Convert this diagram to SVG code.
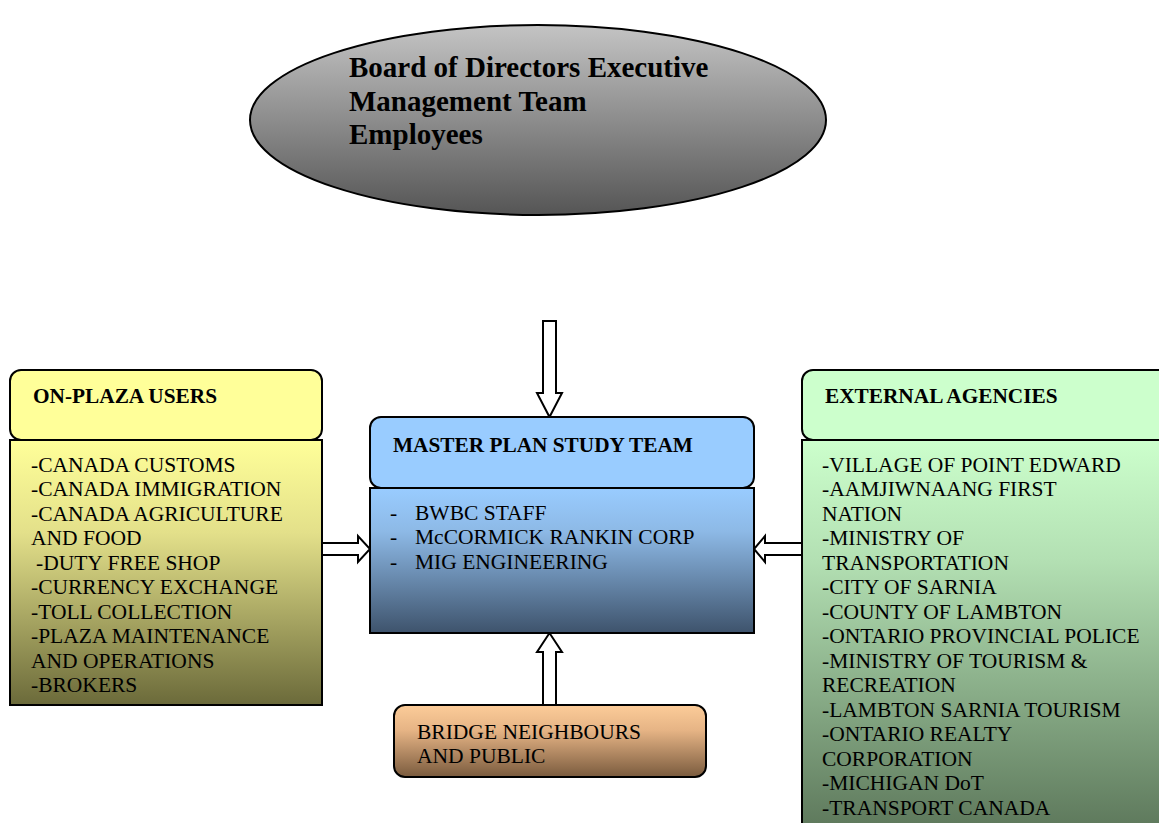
<svg xmlns="http://www.w3.org/2000/svg" width="1159" height="823" viewBox="0 0 1159 823">
  <defs>
    <linearGradient id="gGray" x1="0" y1="0" x2="0" y2="1">
      <stop offset="0" stop-color="#c4c4c4"/>
      <stop offset="1" stop-color="#555555"/>
    </linearGradient>
    <linearGradient id="gYellow" x1="0" y1="0" x2="0" y2="1">
      <stop offset="0" stop-color="#ffff99"/>
      <stop offset="0.35" stop-color="#e3e08a"/>
      <stop offset="1" stop-color="#6b6a3a"/>
    </linearGradient>
    <linearGradient id="gBlue" x1="0" y1="0" x2="0" y2="1">
      <stop offset="0" stop-color="#99ccff"/>
      <stop offset="0.3" stop-color="#8db9e6"/>
      <stop offset="1" stop-color="#3e536c"/>
    </linearGradient>
    <linearGradient id="gGreen" x1="0" y1="0" x2="0" y2="1">
      <stop offset="0" stop-color="#ccffcc"/>
      <stop offset="0.3" stop-color="#b3e0b3"/>
      <stop offset="1" stop-color="#5a7458"/>
    </linearGradient>
    <linearGradient id="gOrange" x1="0" y1="0" x2="0" y2="1">
      <stop offset="0" stop-color="#fccc99"/>
      <stop offset="0.35" stop-color="#e6b485"/>
      <stop offset="1" stop-color="#7a5b3e"/>
    </linearGradient>
  </defs>
  <style>
    .box { stroke: #000; stroke-width: 2; }
    .arrow { fill: #fff; stroke: #000; stroke-width: 2; stroke-linejoin: miter; }
    .title { font-family: "Liberation Serif", "Times New Roman", serif; font-weight: bold; font-size: 21.3px; fill: #000; }
    .item { font-family: "Liberation Serif", "Times New Roman", serif; font-size: 21.5px; fill: #000; }
    .big { font-family: "Liberation Serif", "Times New Roman", serif; font-weight: bold; font-size: 29px; fill: #000; }
  </style>

  <rect width="1159" height="823" fill="#fff"/>

  <!-- connectors: hollow block arrows -->
  <g id="connectors">
    <!-- top, pointing down into the study team -->
    <polygon class="arrow" points="543,321 556,321 556,393 562,393 549.5,417 537,393 543,393"/>
    <!-- from on-plaza users, pointing right -->
    <polygon class="arrow" points="322,543 358,543 358,536 370,549 358,562 358,555 322,555"/>
    <!-- from external agencies, pointing left -->
    <polygon class="arrow" points="802,543 765,543 765,536 754,549 765,562 765,555 802,555"/>
    <!-- from bridge neighbours, pointing up -->
    <polygon class="arrow" points="543,705 543,652 537,652 549.5,633 562,652 556,652 556,705"/>
  </g>

  <g id="board">
    <ellipse class="box" cx="538" cy="120" rx="288" ry="95" fill="url(#gGray)"/>
    <text class="big" x="349" y="77">Board of Directors Executive</text>
    <text class="big" x="349" y="110.5">Management Team</text>
    <text class="big" x="349" y="144">Employees</text>
  </g>

  <g id="on-plaza-users">
    <rect class="box" x="10" y="370" width="312" height="70" rx="11" fill="#ffff99"/>
    <text class="title" x="33" y="403">ON-PLAZA USERS</text>
    <rect class="box" x="10" y="440" width="312" height="265" fill="url(#gYellow)"/>
    <text class="item" x="31" y="471.5">-CANADA CUSTOMS</text>
    <text class="item" x="31" y="496">-CANADA IMMIGRATION</text>
    <text class="item" x="31" y="520.5">-CANADA AGRICULTURE</text>
    <text class="item" x="31" y="545">AND FOOD</text>
    <text class="item" x="36" y="569.5">-DUTY FREE SHOP</text>
    <text class="item" x="31" y="594">-CURRENCY EXCHANGE</text>
    <text class="item" x="31" y="618.5">-TOLL COLLECTION</text>
    <text class="item" x="31" y="643">-PLAZA MAINTENANCE</text>
    <text class="item" x="31" y="667.5">AND OPERATIONS</text>
    <text class="item" x="31" y="692">-BROKERS</text>
  </g>

  <g id="master-plan-study-team">
    <rect class="box" x="370" y="417" width="384" height="71" rx="11" fill="#99ccff"/>
    <text class="title" x="393" y="452">MASTER PLAN STUDY TEAM</text>
    <rect class="box" x="370" y="488" width="384" height="145" fill="url(#gBlue)"/>
    <text class="item" x="390" y="519.5">-</text>
    <text class="item" x="415" y="519.5">BWBC STAFF</text>
    <text class="item" x="390" y="544">-</text>
    <text class="item" x="415" y="544">McCORMICK RANKIN CORP</text>
    <text class="item" x="390" y="568.5">-</text>
    <text class="item" x="415" y="568.5">MIG ENGINEERING</text>
  </g>

  <g id="bridge-neighbours">
    <rect class="box" x="394" y="705" width="312" height="72" rx="11" fill="url(#gOrange)"/>
    <text class="item" x="417" y="738.5">BRIDGE NEIGHBOURS</text>
    <text class="item" x="417" y="763">AND PUBLIC</text>
  </g>

  <g id="external-agencies">
    <rect class="box" x="802" y="370" width="370" height="70" rx="11" fill="#ccffcc"/>
    <text class="title" x="825" y="403">EXTERNAL AGENCIES</text>
    <rect class="box" x="802" y="440" width="370" height="400" fill="url(#gGreen)"/>
    <text class="item" x="822" y="471.5">-VILLAGE OF POINT EDWARD</text>
    <text class="item" x="822" y="496">-AAMJIWNAANG FIRST</text>
    <text class="item" x="822" y="520.5">NATION</text>
    <text class="item" x="822" y="545">-MINISTRY OF</text>
    <text class="item" x="822" y="569.5">TRANSPORTATION</text>
    <text class="item" x="822" y="594">-CITY OF SARNIA</text>
    <text class="item" x="822" y="618.5">-COUNTY OF LAMBTON</text>
    <text class="item" x="822" y="643">-ONTARIO PROVINCIAL POLICE</text>
    <text class="item" x="822" y="667.5">-MINISTRY OF TOURISM &amp;</text>
    <text class="item" x="822" y="692">RECREATION</text>
    <text class="item" x="822" y="716.5">-LAMBTON SARNIA TOURISM</text>
    <text class="item" x="822" y="741">-ONTARIO REALTY</text>
    <text class="item" x="822" y="765.5">CORPORATION</text>
    <text class="item" x="822" y="790">-MICHIGAN DoT</text>
    <text class="item" x="822" y="814.5">-TRANSPORT CANADA</text>
  </g>
</svg>
